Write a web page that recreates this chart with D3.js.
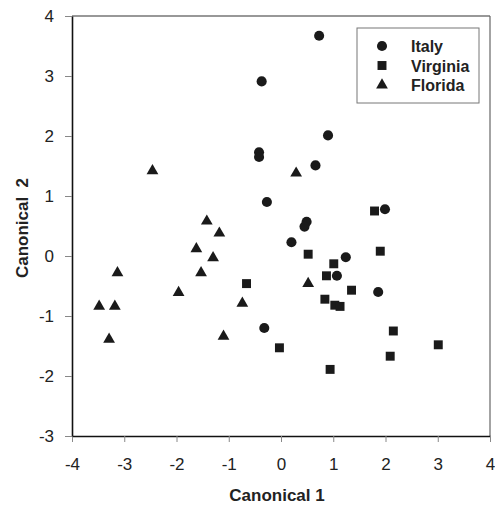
<!DOCTYPE html>
<html>
<head>
<meta charset="utf-8">
<script src="https://cdn.jsdelivr.net/npm/d3@7"></script>
<style>
  body { margin: 0; background: #fff; }
  svg { font-family: "Liberation Sans", Arial, sans-serif; }
</style>
</head>
<body>
<svg id="chart" width="495" height="508"></svg>
<script>
// canonical scores
var italy = [
  [0.73, 3.67], [-0.37, 2.91], [0.9, 2.01], [-0.42, 1.73], [-0.42, 1.65],
  [0.66, 1.51], [-0.27, 0.9], [1.99, 0.78], [0.49, 0.57], [0.45, 0.49],
  [0.2, 0.23], [1.24, -0.02], [1.07, -0.33], [1.86, -0.6], [-0.32, -1.2]
];
var virginia = [
  [1.79, 0.75], [0.52, 0.03], [1.9, 0.08], [1.01, -0.13], [0.87, -0.33],
  [1.35, -0.57], [-0.66, -0.46], [0.84, -0.72], [1.03, -0.82], [1.13, -0.84],
  [2.15, -1.25], [3.01, -1.48], [-0.03, -1.53], [2.09, -1.67], [0.94, -1.89]
];
var florida = [
  [-2.46, 1.42], [-1.42, 0.58], [-1.18, 0.38], [0.29, 1.38], [-1.62, 0.12],
  [-1.3, -0.03], [-1.53, -0.28], [-3.13, -0.28], [-1.96, -0.61], [-3.48, -0.84],
  [-3.18, -0.84], [-0.74, -0.79], [-3.29, -1.39], [-1.1, -1.34], [0.52, -0.46]
];
var groupNames = ["Italy", "Virginia", "Florida"];
var xTicks = [-4, -3, -2, -1, 0, 1, 2, 3, 4];
var yTicks = [-3, -2, -1, 0, 1, 2, 3, 4];

var svg = d3.select("#chart");
var plotL = 72, plotR = 490, plotT = 16, plotB = 436;

var x = d3.scaleLinear().domain([-4, 4]).range([plotL, plotR]);
var y = d3.scaleLinear().domain([-3, 4]).range([plotB, plotT]);

var shapes = [d3.symbolCircle, d3.symbolSquare, d3.symbolTriangle];
var sizes = [80, 80, 60];
var fmt = function(d) { return String(d); };  // keep plain hyphen minus

// frame (top + right)
svg.append("line").attr("x1", plotL).attr("x2", plotR).attr("y1", plotT).attr("y2", plotT)
  .attr("stroke", "#333").attr("stroke-width", 1.2);
svg.append("line").attr("x1", plotR).attr("x2", plotR).attr("y1", plotT).attr("y2", plotB)
  .attr("stroke", "#666").attr("stroke-width", 1.2);

// axes
var xAxis = svg.append("g").attr("transform", "translate(0," + plotB + ")")
  .call(d3.axisBottom(x).tickValues(xTicks).tickFormat(fmt).tickSize(6).tickPadding(16).tickSizeOuter(0));
var yAxis = svg.append("g").attr("transform", "translate(" + plotL + ",0)")
  .call(d3.axisLeft(y).tickValues(yTicks).tickFormat(fmt).tickSize(7).tickPadding(11).tickSizeOuter(0));

[xAxis, yAxis].forEach(function(ax) {
  ax.select(".domain").attr("stroke", "#111").attr("stroke-width", 1.6);
  ax.selectAll(".tick line").attr("stroke", "#888");
  ax.selectAll(".tick text").attr("font-size", 17).attr("fill", "#222")
    .attr("font-family", "Liberation Sans, Arial, sans-serif");
});

// axis titles
svg.append("text").attr("x", 277).attr("y", 501).attr("text-anchor", "middle")
  .attr("font-size", 17).attr("font-weight", "bold").attr("fill", "#222")
  .text("Canonical 1");
svg.append("text").attr("transform", "translate(28,228) rotate(-90)")
  .attr("text-anchor", "middle").attr("font-size", 17).attr("font-weight", "bold")
  .attr("fill", "#222").attr("xml:space", "preserve").text("Canonical  2");

// points
[italy, virginia, florida].forEach(function(data, i) {
  svg.append("g").selectAll("path").data(data).enter().append("path")
    .attr("d", d3.symbol().type(shapes[i]).size(sizes[i]))
    .attr("transform", function(d) { return "translate(" + x(d[0]) + "," + y(d[1]) + ")"; })
    .attr("fill", "#1a1a1a");
});

// legend
var legend = svg.append("g");
legend.append("rect").attr("x", 357).attr("y", 28).attr("width", 122).attr("height", 75)
  .attr("fill", "#fff").attr("stroke", "#777").attr("stroke-width", 1);
groupNames.forEach(function(name, i) {
  var ly = 46 + i * 19.5;
  legend.append("path")
    .attr("d", d3.symbol().type(shapes[i]).size(sizes[i]))
    .attr("transform", "translate(382," + ly + ")")
    .attr("fill", "#1a1a1a");
  legend.append("text").attr("x", 411).attr("y", ly + 6)
    .attr("font-size", 16).attr("font-weight", "bold").attr("fill", "#222")
    .text(name);
});
</script>
</body>
</html>
